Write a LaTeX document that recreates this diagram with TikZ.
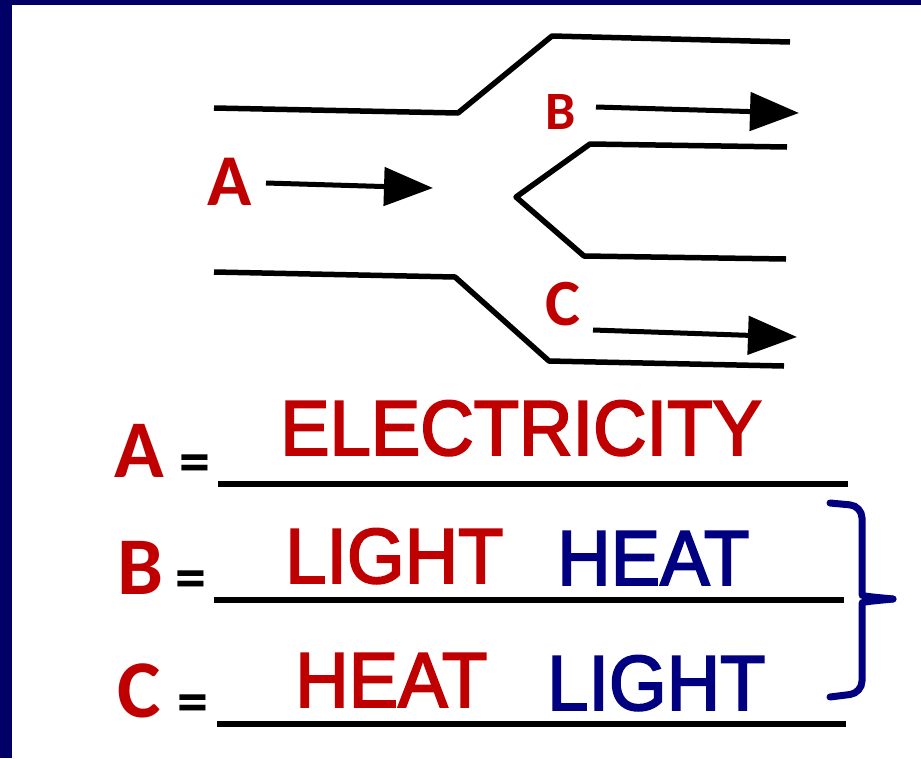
\documentclass[tikz,border=0pt]{standalone}
\usepackage{fontspec}
\setmainfont{Liberation Sans}
\newfontfamily\wordfont[FakeStretch=0.95, FakeBold=2.5]{Liberation Sans}
\newfontfamily\tagfont{Carlito}
\usetikzlibrary{arrows.meta}
\definecolor{ansred}{RGB}{192,0,0}
\definecolor{ansnavy}{RGB}{0,0,128}
\definecolor{framenavy}{RGB}{0,0,102}

\begin{document}
\begin{tikzpicture}[x=1pt, y=-1pt,
    wire/.style={line width=5.5pt, line join=round},
    flow/.style={line width=5pt, -{Triangle[length=49pt, width=38pt]}},
    blank/.style={line width=6pt},
    tag/.style={inner sep=0pt, anchor=base west, text=ansred, font=\tagfont\bfseries},
    word/.style={inner sep=0pt, anchor=base west, font=\wordfont\fontsize{78}{80}\selectfont},
    eq/.style={inner sep=0pt, anchor=base west, font=\tagfont\bfseries\fontsize{62}{64}\selectfont},
    brace/.style={line width=7pt, draw=ansnavy, line cap=round}]
    \useasboundingbox (0,0) rectangle (921,758);

    % Frame edges
    \fill[framenavy] (0,0) rectangle (921,5);
    \fill[framenavy] (0,0) rectangle (12,758);

    % Wires of the circuit
    \draw[wire] (214,108) -- (458,113) -- (552,36) -- (790,42);
    \draw[wire] (787,147) -- (590,144) -- (516,197) -- (584,256) -- (786,259);
    \draw[wire] (214,272) -- (455,277) -- (549,361) -- (784,366);

    % Labels and energy arrows
    \node[tag, font=\tagfont\bfseries\fontsize{73}{75}\selectfont] (tagA) at (207,205) {A};
    \node[tag, font=\tagfont\bfseries\fontsize{54}{56}\selectfont] (tagB) at (545,129) {B};
    \node[tag, font=\tagfont\bfseries\fontsize{66}{68}\selectfont] (tagC) at (545,325) {C};
    \coordinate (inA) at (266,183);
    \coordinate (outA) at (433,188);
    \coordinate (inB) at (596,107);
    \coordinate (outB) at (799,113);
    \coordinate (inC) at (593,330);
    \coordinate (outC) at (797,337);
    \draw[flow] (inA) -- (outA);
    \draw[flow] (inB) -- (outB);
    \draw[flow] (inC) -- (outC);

    % Answer rows
    \node[tag, font=\tagfont\bfseries\fontsize{82}{84}\selectfont] (rowA) at (114,477) {A};
    \node[tag, font=\tagfont\bfseries\fontsize{82}{84}\selectfont] (rowB) at (117,594) {B};
    \node[tag, font=\tagfont\bfseries\fontsize{82}{84}\selectfont] (rowC) at (117,717) {C};
    \node[eq] (eqA) at (179,482) {=};
    \node[eq] (eqB) at (175,598) {=};
    \node[eq] (eqC) at (177,722) {=};
    \coordinate (lineA0) at (218,484);
    \coordinate (lineA1) at (848,484);
    \coordinate (lineB0) at (214,600);
    \coordinate (lineB1) at (844,600);
    \coordinate (lineC0) at (217,724);
    \coordinate (lineC1) at (846,724);
    \draw[blank] (lineA0) -- (lineA1);
    \draw[blank] (lineB0) -- (lineB1);
    \draw[blank] (lineC0) -- (lineC1);

    \node[word, text=ansred] (ansA) at (280,455) {ELECTRICITY};
    \node[word, text=ansred] (ansB1) at (285,583) {LIGHT};
    \node[word, text=ansnavy] (ansB2) at (557,585) {HEAT};
    \node[word, text=ansred] (ansC1) at (295,707) {HEAT};
    \node[word, text=ansnavy] (ansC2) at (547,710) {LIGHT};

    % Brace round rows B and C
    \draw[brace, rounded corners=12pt] (830,503) -- (862,506) -- (862,582)
        .. controls (862,596) .. (893,599);
    \draw[brace, rounded corners=12pt] (893,599) .. controls (862,602) .. (862,616)
        -- (862,693) -- (830,697);
\end{tikzpicture}
\end{document}
